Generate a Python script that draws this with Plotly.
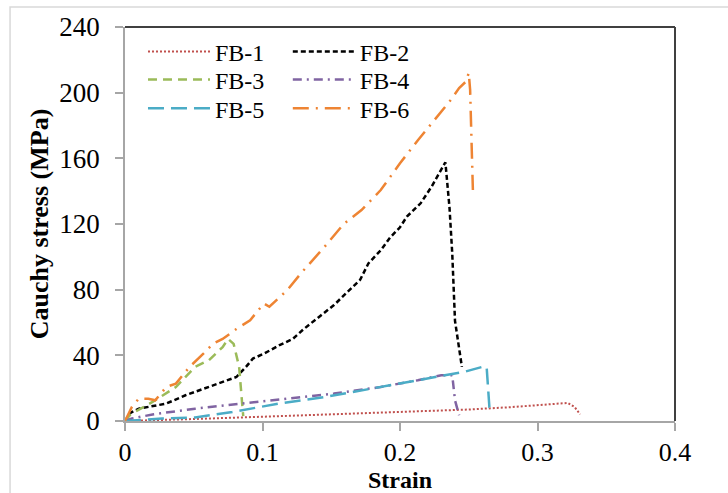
import plotly.graph_objects as go

# ---- data ----
fb1_strain = [0, 0.02, 0.05, 0.10, 0.15, 0.20, 0.25, 0.28, 0.30, 0.315, 0.322, 0.327, 0.331]
fb1_stress = [0, 0.3, 1.2, 2.6, 4.0, 5.4, 7.0, 8.4, 9.6, 10.7, 11.0, 8.5, 4.0]

fb2_strain = [0, 0.004, 0.01, 0.03, 0.044, 0.061, 0.071, 0.081, 0.088, 0.093, 0.101, 0.112,
              0.122, 0.130, 0.142, 0.152, 0.161, 0.171, 0.177, 0.186, 0.193, 0.200, 0.205,
              0.215, 0.223, 0.233, 0.236, 0.238, 0.240, 0.2435, 0.245]
fb2_stress = [0, 5, 7.5, 10.6, 15.7, 20.7, 23.8, 26.8, 33, 38, 41, 46,
              50, 56, 64, 70.6, 78, 86, 96, 104, 112, 118, 124.5,
              132.6, 142.8, 157.6, 130, 102, 61, 41, 33]

fb3_strain = [0, 0.004, 0.02, 0.037, 0.051, 0.061, 0.071, 0.075, 0.079, 0.083, 0.085, 0.086]
fb3_stress = [0, 4, 11.6, 20.7, 33, 37, 45, 50, 47, 33, 12.6, 3]

fb4_strain = [0, 0.005, 0.02, 0.051, 0.085, 0.118, 0.152, 0.186, 0.213, 0.230, 0.238, 0.240, 0.243]
fb4_stress = [0, 1.5, 4.0, 7.5, 10.6, 13.6, 16.7, 20.7, 24.8, 27.9, 27.9, 12.6, 3.5]

fb5_strain = [0, 0.027, 0.051, 0.078, 0.112, 0.145, 0.179, 0.213, 0.233, 0.247, 0.260, 0.263, 0.265, 0.267]
fb5_stress = [0, 1.5, 2.2, 5.5, 10.6, 14.6, 19.7, 24.8, 27.9, 30, 33, 33, 8.5, 7.5]

fb6_strain = [0, 0.005, 0.010, 0.017, 0.022, 0.030, 0.037, 0.047, 0.057, 0.064, 0.071, 0.081,
              0.091, 0.101, 0.105, 0.118, 0.128, 0.145, 0.159, 0.172, 0.186, 0.200, 0.213,
              0.227, 0.237, 0.243, 0.248, 0.250, 0.251, 0.252, 0.253]
fb6_stress = [0, 8.5, 13.6, 13.6, 12.6, 20.7, 22.8, 33, 41, 47, 50, 56,
              61.4, 71.6, 69.6, 79.7, 90, 106, 120, 128.5, 140.7, 157, 171,
              185.5, 195.6, 202.8, 206.8, 212, 201.7, 171, 140.7]

names = ["FB-1", "FB-2", "FB-3", "FB-4", "FB-5", "FB-6"]
xs = [fb1_strain, fb2_strain, fb3_strain, fb4_strain, fb5_strain, fb6_strain]
ys = [fb1_stress, fb2_stress, fb3_stress, fb4_stress, fb5_stress, fb6_stress]
colors = ["#c0504d", "#000000", "#9bbb59", "#8064a2", "#4bacc6", "#ee8433"]
dashes = ["2px,2px", "5px,3px", "9px,6px", "9px,5px,2px,5px", "16px,7px", "16px,7px,2px,7px"]
widths = [2, 2.5, 2.5, 2.5, 2.5, 2.5]
legend_ids = ["legend", "legend2", "legend3", "legend4", "legend5", "legend6"]

x_ticks = [0, 0.1, 0.2, 0.3, 0.4]
x_ticktext = ["0", "0.1", "0.2", "0.3", "0.4"]
y_ticks = [0, 40, 80, 120, 160, 200, 240]

FONT = "Liberation Serif, Times New Roman, serif"

fig = go.Figure()
for n, x, y, c, d, w, lg in zip(names, xs, ys, colors, dashes, widths, legend_ids):
    fig.add_trace(go.Scatter(x=x, y=y, mode="lines", name=n, legend=lg, showlegend=True,
                             line=dict(color=c, dash=d, width=w)))

legend_common = dict(font=dict(family=FONT, size=24, color="#000"), bgcolor="rgba(0,0,0,0)",
                     itemwidth=62, xanchor="left", yanchor="middle", visible=True)

# two columns x three rows, as in the reference legend
col_x = [0.0327, 0.296]
row_y = [0.937, 0.866, 0.793]
legend_layout = {}
for i, lg in enumerate(legend_ids):
    legend_layout[lg] = dict(x=col_x[i % 2], y=row_y[i // 2], **legend_common)

fig.update_layout(
    width=728, height=493,
    showlegend=True,
    margin=dict(l=125, r=53, t=27, b=72),
    paper_bgcolor="white", plot_bgcolor="white",
    font=dict(family=FONT, color="#000"),
    **legend_layout,
    xaxis=dict(range=[0, 0.4], tickvals=x_ticks, ticktext=x_ticktext, showgrid=False,
               zeroline=False, showline=True, linecolor="#a6a6a6", linewidth=1.5,
               ticks="outside", ticklen=8, tickcolor="#a6a6a6", tickwidth=1.5,
               tickfont=dict(family=FONT, size=26, color="#000"), ticklabelstandoff=-1,
               title=dict(text="<b>Strain</b>", font=dict(family=FONT, size=24, color="#000"),
                          standoff=12),
               automargin=False),
    yaxis=dict(range=[0, 240], tickvals=y_ticks, showgrid=False,
               zeroline=False, showline=True, linecolor="#a6a6a6", linewidth=1.5,
               ticks="outside", ticklen=8, tickcolor="#a6a6a6", tickwidth=1.5,
               tickfont=dict(family=FONT, size=27, color="#000"), ticklabelstandoff=10,
               title=dict(text="<b>Cauchy stress (MPa)</b>", font=dict(family=FONT, size=26, color="#000"),
                          standoff=3),
               automargin=False),
    shapes=[
        # outer light border of the chart area
        dict(type="rect", xref="paper", yref="paper", x0=-0.209, x1=1.3, y0=-0.4, y1=1.0508,
             line=dict(color="#d9d9d9", width=1.5), fillcolor="rgba(0,0,0,0)", layer="below"),
        # dark top and right border of the plot area
        dict(type="line", xref="paper", yref="paper", x0=0, x1=1, y0=1, y1=1,
             line=dict(color="#404040", width=2)),
        dict(type="line", xref="paper", yref="paper", x0=1, x1=1, y0=0, y1=1,
             line=dict(color="#404040", width=2)),
    ],
)

fig.write_html("out.html")
